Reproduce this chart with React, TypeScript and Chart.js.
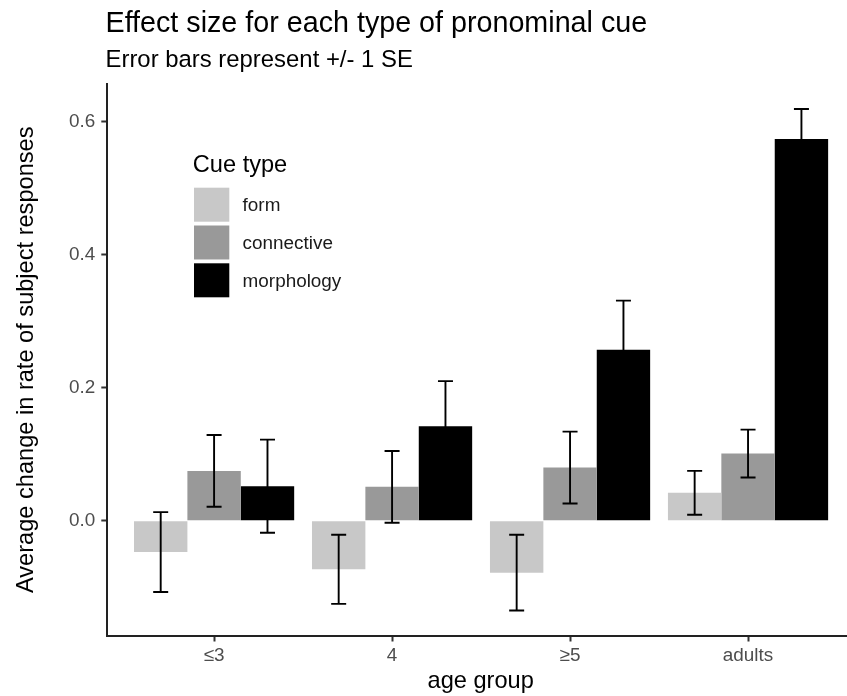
import React, { useEffect, useRef } from 'react';
import { Chart, registerables } from 'chart.js';

Chart.register(...registerables);

// ---- data ----
const categories = ['≤3', '4', '≥5', 'adults'];
const cueTypes = ['form', 'connective', 'morphology'];
const formValues = [-0.047, -0.073, -0.078, 0.042];
const connectiveValues = [0.075, 0.051, 0.080, 0.101];
const morphologyValues = [0.052, 0.142, 0.257, 0.574];
const formSE = [0.060, 0.052, 0.057, 0.033];
const connectiveSE = [0.054, 0.054, 0.054, 0.036];
const morphologySE = [0.070, 0.068, 0.074, 0.045];
const yTicks = [0, 0.2, 0.4, 0.6];

const titleText = 'Effect size for each type of pronominal cue';
const subtitleText = 'Error bars represent +/- 1 SE';
const xTitle = 'age group';
const yTitle = 'Average change in rate of subject responses';
const legendTitle = 'Cue type';

// ---- styles ----
const FONT = "'Liberation Sans', Arial, Helvetica, sans-serif";
const fills = ['#c8c8c8', '#999999', '#000000'];
const W = 847;
const H = 696;

const errorBarPlugin = {
  id: 'errorBars',
  afterDatasetsDraw(chart: any) {
    const ctx = chart.ctx;
    const ys = chart.scales.y;
    ctx.save();
    ctx.strokeStyle = '#000000';
    ctx.lineWidth = 1.9;
    chart.data.datasets.forEach((ds: any, di: number) => {
      const meta = chart.getDatasetMeta(di);
      meta.data.forEach((bar: any, i: number) => {
        const v = ds.data[i].y;
        const s = ds.se[i];
        const top = ys.getPixelForValue(v + s);
        const bot = ys.getPixelForValue(v - s);
        const x = bar.x;
        const hw = 7.5;
        ctx.beginPath();
        ctx.moveTo(x, top);
        ctx.lineTo(x, bot);
        ctx.moveTo(x - hw, top);
        ctx.lineTo(x + hw, top);
        ctx.moveTo(x - hw, bot);
        ctx.lineTo(x + hw, bot);
        ctx.stroke();
      });
    });
    ctx.restore();
  },
};

const decorPlugin = {
  id: 'decor',
  afterDraw(chart: any) {
    const ctx = chart.ctx;
    const area = chart.chartArea;
    ctx.save();
    ctx.fillStyle = '#000000';
    ctx.textAlign = 'left';
    ctx.textBaseline = 'alphabetic';
    // title + subtitle
    ctx.font = `28.7px ${FONT}`;
    ctx.fillText(titleText, area.left - 1.8, 32.3);
    ctx.font = `23.9px ${FONT}`;
    ctx.fillText(subtitleText, area.left - 1.8, 67);

    // x axis title (centered on full panel, which extends past the right edge)
    const panelCenter = (area.left + 854) / 2;
    ctx.textAlign = 'center';
    ctx.font = `23.6px ${FONT}`;
    ctx.fillText(xTitle, panelCenter, 688);

    // y axis title
    ctx.save();
    ctx.translate(33.3, (area.top + area.bottom) / 2);
    ctx.rotate(-Math.PI / 2);
    ctx.textAlign = 'center';
    ctx.textBaseline = 'alphabetic';
    ctx.fillText(yTitle, 0, 0);
    ctx.restore();

    // legend
    ctx.textAlign = 'left';
    ctx.font = `23.6px ${FONT}`;
    ctx.fillStyle = '#000000';
    ctx.fillText(legendTitle, 192.8, 172);
    const keyX = 194;
    const keyW = 35.3;
    const keyH = 34;
    const rowStep = 37.8;
    const firstCenter = 204.7;
    ctx.font = `18.9px ${FONT}`;
    cueTypes.forEach((name, i) => {
      const cy = firstCenter + i * rowStep;
      ctx.fillStyle = fills[i];
      ctx.fillRect(keyX, cy - keyH / 2, keyW, keyH);
      ctx.fillStyle = '#1a1a1a';
      ctx.textBaseline = 'middle';
      ctx.fillText(name, 242.6, cy + 1.5);
    });
    ctx.restore();
  },
};

export default function App() {
  const canvasRef = useRef<HTMLCanvasElement | null>(null);

  useEffect(() => {
    document.body.style.margin = '0';
    document.body.style.overflow = 'hidden';
    const canvas = canvasRef.current;
    if (!canvas) return;
    const valueSets = [formValues, connectiveValues, morphologyValues];
    const seSets = [formSE, connectiveSE, morphologySE];
    const datasets = cueTypes.map((name, k) => ({
      label: name,
      data: valueSets[k].map((v, i) => ({ x: i, y: v })),
      se: seSets[k],
      backgroundColor: fills[k],
      borderWidth: 0,
      categoryPercentage: 0.9,
      barPercentage: 1.0,
    }));

    const chart = new Chart(canvas, {
      type: 'bar',
      data: { datasets: datasets as any },
      options: {
        animation: false,
        responsive: true,
        maintainAspectRatio: false,
        devicePixelRatio: 1,
        layout: { padding: { top: 84, left: 0, right: 0, bottom: 0 } },
        plugins: {
          legend: { display: false },
          tooltip: { enabled: false },
          title: { display: false },
        },
        scales: {
          x: {
            type: 'linear',
            min: -0.6,
            max: 3.556,
            offset: false,
            afterBuildTicks: (scale: any) => {
              scale.ticks = categories.map((_, i) => ({ value: i }));
            },
            afterFit: (scale: any) => {
              scale.height = H - 635.5;
            },
            ticks: {
              autoSkip: false,
              maxRotation: 0,
              padding: 3,
              color: '#4d4d4d',
              font: { family: FONT, size: 18.9 },
              callback: (value: any) => categories[Math.round(Number(value))] ?? '',
            },
            grid: {
              display: true,
              drawOnChartArea: false,
              drawTicks: true,
              offset: false,
              tickLength: 6,
              tickColor: '#333333',
              tickWidth: 2,
            },
            border: { display: true, color: '#222222', width: 2 },
          },
          y: {
            type: 'linear',
            min: -0.1725,
            max: 0.6567,
            afterBuildTicks: (scale: any) => {
              scale.ticks = yTicks.map((v) => ({ value: v }));
            },
            afterFit: (scale: any) => {
              scale.width = 107.3;
            },
            ticks: {
              padding: 6,
              color: '#4d4d4d',
              font: { family: FONT, size: 18.9 },
              callback: (value: any) => Number(value).toFixed(1),
            },
            grid: {
              display: true,
              drawOnChartArea: false,
              drawTicks: true,
              tickLength: 6,
              tickColor: '#333333',
              tickWidth: 2,
            },
            border: { display: true, color: '#222222', width: 2 },
          },
        },
      },
      plugins: [errorBarPlugin, decorPlugin],
    } as any);

    return () => {
      chart.destroy();
    };
  }, []);

  return (
    <div style={{ position: 'fixed', left: 0, top: 0, width: W, height: H, background: '#ffffff' }}>
      <canvas ref={canvasRef} />
    </div>
  );
}
